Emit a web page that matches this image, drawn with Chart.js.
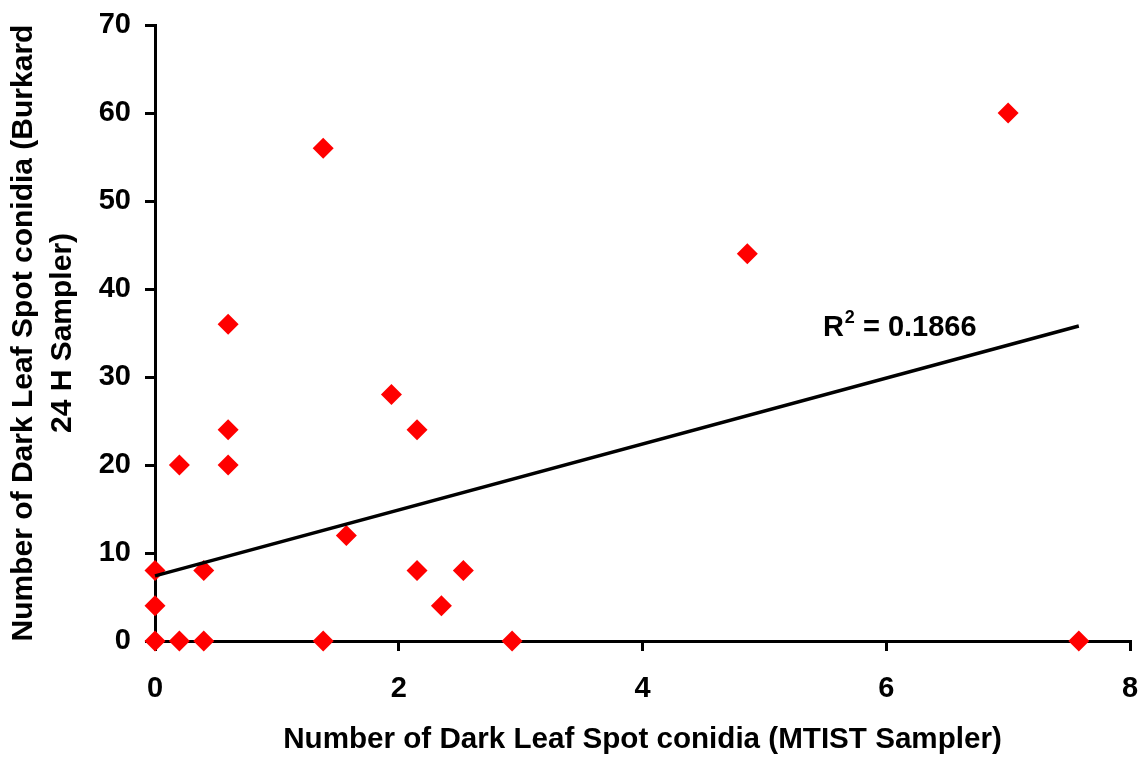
<!DOCTYPE html>
<html>
<head>
<meta charset="utf-8">
<script src="https://cdn.jsdelivr.net/npm/chart.js@4.4.1/dist/chart.umd.min.js"></script>
<style>
html,body{margin:0;padding:0;background:#fff;}
#wrap{width:1145px;height:760px;}
</style>
</head>
<body>
<div id="wrap"><canvas id="c" width="1145" height="760"></canvas></div>
<script>
// MTIST sampler counts (x) and Burkard 24 H sampler counts (y)
const mtist   = [0, 0, 0, 0.2, 0.2, 0.4, 0.4, 0.6, 0.6, 0.6, 1.38, 1.38, 1.57, 1.94, 2.15, 2.15, 2.35, 2.53, 2.93, 4.86, 7.0, 7.58];
const burkard = [0, 4, 8, 20, 0, 8, 0, 36, 24, 20, 56, 0, 12, 28, 24, 8, 4, 8, 0, 44, 60, 0];
// Linear trendline endpoints
const trendX = [0, 7.58];
const trendY = [7.4, 35.8];
const r2Label = "0.1866";
const r2Anchor = [5.48, 34.66];
const xTicks = [0, 2, 4, 6, 8];
const yTicks = [0, 10, 20, 30, 40, 50, 60, 70];

const font = "'Liberation Sans', Arial, sans-serif";
const pts = mtist.map((x, i) => ({x: x, y: burkard[i]}));
const trend = trendX.map((x, i) => ({x: x, y: trendY[i]}));

const r2Plugin = {
  id: 'r2',
  afterDatasetsDraw(chart) {
    const {ctx, scales} = chart;
    const px = scales.x.getPixelForValue(r2Anchor[0]);
    const py = scales.y.getPixelForValue(r2Anchor[1]);
    ctx.save();
    ctx.fillStyle = '#000';
    ctx.textBaseline = 'alphabetic';
    ctx.textAlign = 'left';
    ctx.font = "bold 29px " + font;
    ctx.fillText('R', px, py);
    const w = ctx.measureText('R').width;
    ctx.font = "bold 18px " + font;
    ctx.fillText('2', px + w + 1, py - 13);
    const w2 = ctx.measureText('2').width;
    ctx.font = "bold 29px " + font;
    ctx.fillText(' = ' + r2Label, px + w + 1 + w2, py);
    ctx.restore();
  }
};

new Chart(document.getElementById('c'), {
  type: 'scatter',
  data: {
    datasets: [
      {
        data: trend,
        showLine: true,
        borderColor: '#000',
        borderWidth: 3.5,
        pointRadius: 0,
        order: 0,
        clip: false
      },
      {
        data: pts,
        pointStyle: 'rectRot',
        pointRadius: 10.5,
        pointHoverRadius: 10.5,
        backgroundColor: '#FF0000',
        borderColor: '#FF0000',
        borderWidth: 0,
        order: 1,
        clip: false
      }
    ]
  },
  options: {
    responsive: false,
    animation: false,
    events: [],
    plugins: { legend: {display: false}, tooltip: {enabled: false} },
    layout: { padding: {left: 0, top: 25, right: 15, bottom: 0} },
    scales: {
      x: {
        type: 'linear',
        min: 0, max: 8,
        afterBuildTicks(s) { s.ticks = xTicks.map(v => ({value: v})); },
        afterFit(s) { s.height = 119; s.paddingLeft = 0; s.paddingRight = 0; },
        grid: { display: true, drawOnChartArea: false, drawTicks: true, tickLength: 10, color: '#000', lineWidth: 3 },
        border: { display: true, color: '#000', width: 3 },
        ticks: { color: '#000', font: {family: font, size: 29, weight: 'bold'}, padding: 21 },
        title: { display: true, text: 'Number of Dark Leaf Spot conidia (MTIST Sampler)', color: '#000',
                 font: {family: font, size: 29.6, weight: 'bold', lineHeight: 1.2}, padding: {top: 0, bottom: 2} }
      },
      y: {
        type: 'linear',
        min: 0, max: 70,
        afterBuildTicks(s) { s.ticks = yTicks.map(v => ({value: v})); },
        afterFit(s) { s.width = 155; s.paddingTop = 0; s.paddingBottom = 0; },
        grid: { display: true, drawOnChartArea: false, drawTicks: true, tickLength: 10, color: '#000', lineWidth: 3 },
        border: { display: true, color: '#000', width: 3 },
        ticks: { color: '#000', font: {family: font, size: 29, weight: 'bold'}, padding: 14 },
        title: { display: true, text: ['Number of Dark Leaf Spot conidia (Burkard', '24 H Sampler)'], color: '#000',
                 font: {family: font, size: 30, weight: 'bold', lineHeight: 1.3}, padding: {top: 4, bottom: 0} }
      }
    }
  },
  plugins: [r2Plugin]
});
</script>
</body>
</html>
